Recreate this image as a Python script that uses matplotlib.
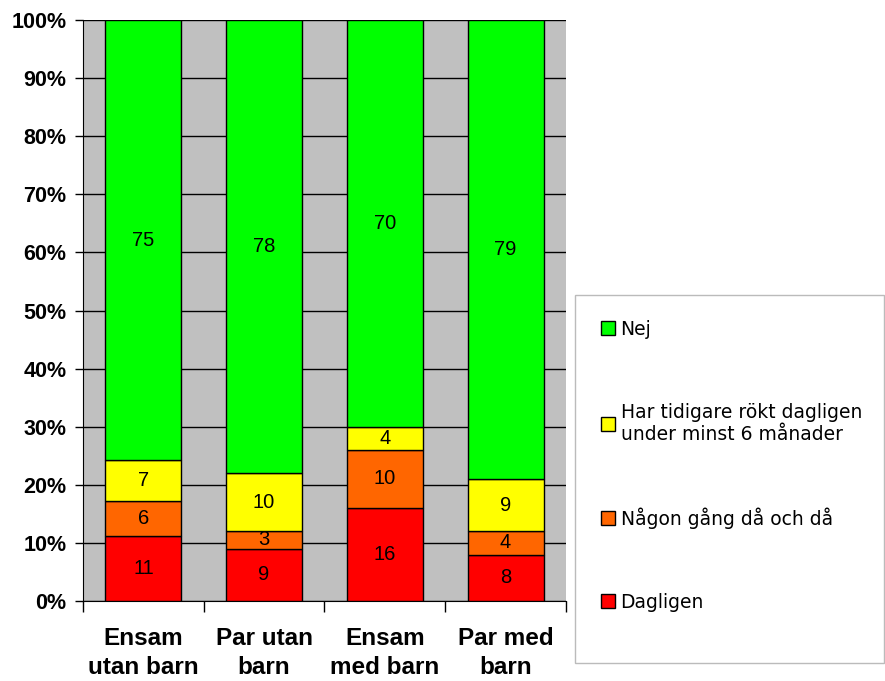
import numpy as np
import matplotlib.pyplot as plt
from matplotlib.patches import Rectangle

plt.rcParams['font.family'] = ['Liberation Sans', 'DejaVu Sans']

categories = ['Ensam\nutan barn', 'Par utan\nbarn', 'Ensam\nmed barn', 'Par med\nbarn']
dagligen = [11, 9, 16, 8]
nagon_gang = [6, 3, 10, 4]
tidigare = [7, 10, 4, 9]
nej = [75, 78, 70, 79]

series = [
    ('Dagligen', dagligen, '#FF0000'),
    ('Någon gång då och då', nagon_gang, '#FF6600'),
    ('Har tidigare rökt dagligen\nunder minst 6 månader', tidigare, '#FFFF00'),
    ('Nej', nej, '#00FF00'),
]

fig = plt.figure(figsize=(8.85, 6.81), dpi=100)
ax = fig.add_axes([0.0938, 0.1175, 0.5457, 0.8531])
ax.set_facecolor('#C0C0C0')

x = np.arange(len(categories))
totals = np.sum([s[1] for s in series], axis=0)
bottom = np.zeros(len(categories))
handles = []
for name, vals, col in series:
    pct = np.array(vals) / totals * 100
    bars = ax.bar(x, pct, 0.63, bottom=bottom, color=col, edgecolor='black',
                  linewidth=1, label=name, zorder=3)
    for xi, b, p, v in zip(x, bottom, pct, vals):
        ax.text(xi, b + p / 2, str(v), ha='center', va='center', fontsize=14.5, zorder=4)
    bottom += pct
    handles.append(bars)

ax.set_xlim(-0.5, len(categories) - 0.5)
ax.set_ylim(0, 100)
ax.set_yticks(np.arange(0, 101, 10))
ax.set_yticklabels([f'{v}%' for v in range(0, 101, 10)], fontsize=15.5, fontweight='bold')
ax.yaxis.grid(True, color='black', linewidth=1, zorder=1)
ax.set_axisbelow(True)

ax.set_xticks(x)
ax.set_xticklabels(categories, fontsize=17.5, fontweight='bold', linespacing=1.33)
ax.set_xticks(np.arange(-0.5, len(categories)), minor=True)
ax.tick_params(axis='x', which='major', length=0, pad=19)
ax.tick_params(axis='x', which='minor', length=8, width=1, direction='out')
ax.tick_params(axis='y', length=6, width=1, direction='out', pad=6)

ax.spines['top'].set_visible(False)
ax.spines['right'].set_visible(False)
ax.spines['left'].set_color('black')
ax.spines['bottom'].set_color('black')

# legend box
fig.patches.append(Rectangle((575 / 885, 1 - 663 / 681), 309 / 885, 368 / 681,
                             transform=fig.transFigure, facecolor='white',
                             edgecolor='#BBBBBB', linewidth=1))
leg = fig.legend(handles[::-1], [s[0] for s in series][::-1],
                 loc='upper left', bbox_to_anchor=(584 / 885, 1 - 303 / 681),
                 frameon=False, handlelength=0.75, handleheight=0.75,
                 handletextpad=0.3, labelspacing=3.4,
                 prop={'family': 'DejaVu Sans', 'size': 13.5})

fig.savefig('out.png', dpi=100)
